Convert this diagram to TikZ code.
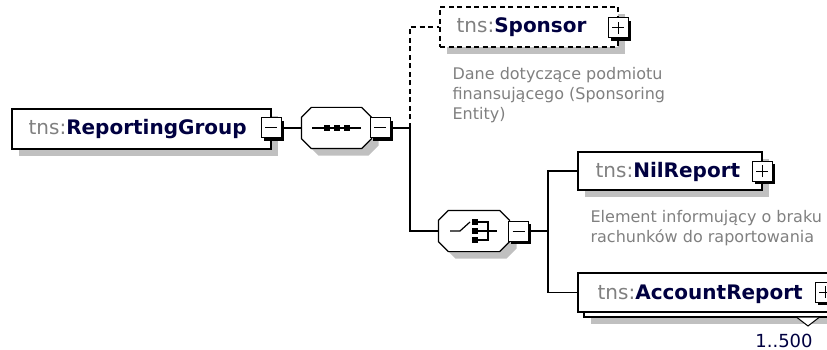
\documentclass[tikz,border=0pt]{standalone}
\usepackage{fontspec}
\setmainfont{DejaVu Sans}
\usetikzlibrary{shadows}
\definecolor{nsgrey}{RGB}{128,128,128}
\definecolor{namecol}{RGB}{0,0,64}
\definecolor{desccol}{RGB}{128,128,128}
\definecolor{shadowcol}{RGB}{192,192,192}
\newcommand\octpath[3]{([xshift=#2+10pt,yshift=#3]#1.north west) -- ([xshift=#2-10pt,yshift=#3]#1.north east) -- ([xshift=#2,yshift=#3-10pt]#1.north east) -- ([xshift=#2,yshift=#3+10pt]#1.south east) -- ([xshift=#2-10pt,yshift=#3]#1.south east) -- ([xshift=#2+10pt,yshift=#3]#1.south west) -- ([xshift=#2,yshift=#3+10pt]#1.south west) -- ([xshift=#2,yshift=#3-10pt]#1.north west) -- cycle}
\begin{document}
\begin{tikzpicture}[x=1pt,y=-1pt,
  line width=1.2pt,
  gshadow/.style={drop shadow={shadow xshift=7pt,shadow yshift=-7pt,fill=shadowcol,opacity=1}},
  elem/.style={rectangle,draw=black,fill=white,line width=1.2pt,inner sep=0pt},
  octframe/.style={rectangle,inner sep=0pt,minimum height=40pt},
  octline/.style={draw=black,fill=white,line width=1.2pt},
  octshadow/.style={fill=shadowcol,draw=none},
  pm/.style={rectangle,draw=black,fill=white,line width=1pt,inner sep=0pt,minimum size=20pt,
    drop shadow={shadow xshift=2.6pt,shadow yshift=-2.6pt,fill=black,opacity=1}},
  minusbox/.style={pm,path picture={\draw[line width=1pt]
    ([xshift=-6pt]path picture bounding box.center) -- ([xshift=6pt]path picture bounding box.center);}},
  plusbox/.style={pm,path picture={\draw[line width=1pt]
    ([xshift=-6pt]path picture bounding box.center) -- ([xshift=6pt]path picture bounding box.center)
    ([yshift=-6pt]path picture bounding box.center) -- ([yshift=6pt]path picture bounding box.center);}},
  title/.style={anchor=base west,inner sep=0pt,font=\fontsize{20}{24}\selectfont},
  desc/.style={anchor=base west,inner sep=0pt,align=left,text=desccol,font=\fontsize{16}{20}\selectfont},
  conn/.style={draw=black,line width=1.2pt},
  dconn/.style={conn,dash pattern=on 5pt off 3.5pt},
  sym/.style={draw=black,line width=1.2pt}
]
\useasboundingbox (0,0) rectangle (827,350);
\clip (0,0) rectangle (827,350);

% ReportingGroup
\node[elem,gshadow,minimum width=259pt,minimum height=40pt] (rg) at (141.5,129) {};
\node[title] (rgt) at (28,135) {\textcolor{nsgrey}{tns:}\textcolor{namecol}{\bfseries ReportingGroup}};
\node[minusbox] (rgm) at (271,128) {};

% sequence compositor
\node[octframe,minimum width=69pt] (seq) at (336.5,128) {};
\path[octshadow] \octpath{seq}{7pt}{-7pt};
\path[octline] \octpath{seq}{0pt}{0pt};
\node[minusbox] (seqm) at (380,128) {};
\draw[sym] (312,128) -- (361,128);
\foreach \xx in {327,337,347}{\fill (\xx-3,125) rectangle (\xx+3,131);}

% Sponsor
\node[elem,gshadow,dash pattern=on 5pt off 3.5pt,minimum width=178pt,minimum height=40pt] (sp) at (529,27) {};
\node[title] (spt) at (456,33) {\textcolor{nsgrey}{tns:}\textcolor{namecol}{\bfseries Sponsor}};
\node[plusbox] (spp) at (618,28) {};
\node[desc] (spd) at (452,120) {Dane dotyczące podmiotu\\finansującego (Sponsoring\\Entity)};

% choice compositor
\node[octframe,minimum width=70pt] (ch) at (474,231) {};
\path[octshadow] \octpath{ch}{7pt}{-7pt};
\path[octline] \octpath{ch}{0pt}{0pt};
\node[minusbox] (chm) at (518.5,231) {};
\draw[sym] (450,231) -- (460,231) -- (470,222);
\fill (472,219) rectangle (478,225);
\fill (472,228) rectangle (478,234);
\fill (472,237) rectangle (478,243);
\draw[sym] (478,222) -- (488,222) -- (488,240) -- (478,240);
\draw[sym] (478,231) -- (497,231);

% NilReport
\node[elem,gshadow,minimum width=184pt,minimum height=38pt] (nil) at (670,171) {};
\node[title] (nilt) at (595,177.5) {\textcolor{nsgrey}{tns:}\textcolor{namecol}{\bfseries NilReport}};
\node[plusbox] (nilp) at (762,171) {};
\node[desc] (nild) at (590,242) {Element informujący o braku\\rachunków do raportowania};

% AccountReport (stacked)
\node[elem,gshadow,minimum width=250pt,minimum height=39pt] (accb) at (709,297.5) {};
\node[elem,minimum width=250pt,minimum height=39pt] (acc) at (703,292.5) {};
\node[title] (acct) at (597,299.5) {\textcolor{nsgrey}{tns:}\textcolor{namecol}{\bfseries AccountReport}};
\node[plusbox] (accp) at (825,292) {};
\draw[line width=1pt,fill=white] (797,317.5) -- (808,326) -- (819,317.5);
\node[anchor=base,inner sep=0pt,text=namecol,font=\fontsize{18}{22}\selectfont] (occ) at (784,347) {1..500};

% connectors
\coordinate (j1) at (410,128);
\coordinate (j2) at (548,231);
\draw[conn] (rgm.east) -- (seq.west);
\draw[conn] (seqm.east) -- (j1);
\draw[dconn] (j1) |- (sp.west);
\draw[conn] (j1) |- (ch.west);
\draw[conn] (chm.east) -- (j2);
\draw[conn] (j2) |- (nil.west);
\draw[conn] (j2) |- (acc.west);
\end{tikzpicture}
\end{document}
